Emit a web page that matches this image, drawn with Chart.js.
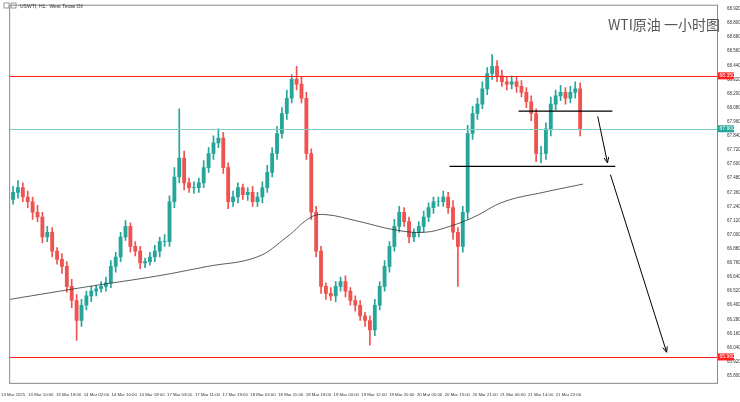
<!DOCTYPE html>
<html><head><meta charset="utf-8">
<script src="https://cdn.jsdelivr.net/npm/chart.js@4/dist/chart.umd.min.js"></script>
<style>html,body{margin:0;background:#fff}</style>
</head><body><canvas id="c" width="740" height="402"></canvas>
<script>
const closes=[67.36,67.40,67.32,67.28,67.19,67.15,66.98,67.02,66.86,66.79,66.73,66.56,66.44,66.27,66.40,66.48,66.52,66.54,66.56,66.59,66.73,66.81,66.98,67.07,66.90,66.86,66.76,66.77,66.81,66.86,66.94,66.94,67.28,67.49,67.65,67.44,67.40,67.40,67.44,67.57,67.69,67.78,67.82,67.57,67.28,67.32,67.40,67.34,67.36,67.28,67.32,67.40,67.53,67.69,67.86,68.03,68.16,68.32,68.28,68.16,67.69,67.19,66.86,66.56,66.50,66.48,66.56,66.60,66.52,66.44,66.40,66.31,66.27,66.19,66.40,66.56,66.73,66.90,67.07,67.19,67.11,66.98,67.02,67.07,67.15,67.23,67.28,67.28,67.32,67.23,67.02,66.90,67.19,67.86,68.03,68.11,68.24,68.37,68.43,68.35,68.30,68.28,68.30,68.26,68.21,68.13,68.03,67.69,67.69,67.90,68.11,68.18,68.21,68.16,68.21,68.24,67.90];
const firstOpen=67.30;
const wickUp=[0.05,0.06,0.04,0.05,0.04,0.06,0.04,0.05,0.04,0.03,0.05,0.04,0.06,0.05,0.05,0.04,0.04,0.03,0.04,0.05,0.05,0.04,0.04,0.05,0.03,0.04,0.04,0.03,0.04,0.05,0.04,0.06,0.05,0.08,0.42,0.06,0.04,0.05,0.04,0.06,0.05,0.06,0.08,0.05,0.04,0.05,0.04,0.03,0.04,0.05,0.04,0.05,0.06,0.05,0.06,0.05,0.07,0.04,0.11,0.06,0.05,0.04,0.05,0.04,0.03,0.05,0.04,0.04,0.05,0.03,0.04,0.04,0.03,0.04,0.05,0.04,0.05,0.04,0.06,0.05,0.04,0.04,0.03,0.04,0.05,0.04,0.04,0.04,0.05,0.04,0.06,0.04,0.05,0.07,0.06,0.05,0.06,0.05,0.10,0.05,0.05,0.04,0.05,0.04,0.05,0.04,0.05,0.04,0.06,0.05,0.06,0.05,0.06,0.04,0.05,0.06,0.05];
const wickDn=[0.04,0.05,0.04,0.05,0.06,0.04,0.05,0.04,0.05,0.04,0.06,0.05,0.06,0.17,0.05,0.04,0.05,0.04,0.03,0.04,0.04,0.05,0.04,0.03,0.05,0.04,0.05,0.04,0.03,0.04,0.05,0.04,0.04,0.05,0.05,0.06,0.04,0.05,0.04,0.04,0.04,0.05,0.04,0.05,0.06,0.04,0.05,0.04,0.05,0.04,0.04,0.05,0.04,0.04,0.05,0.04,0.05,0.04,0.05,0.04,0.05,0.06,0.05,0.06,0.05,0.04,0.05,0.04,0.05,0.04,0.05,0.04,0.05,0.13,0.05,0.04,0.04,0.05,0.04,0.05,0.04,0.05,0.04,0.04,0.05,0.04,0.05,0.04,0.04,0.05,0.06,0.34,0.05,0.06,0.05,0.05,0.04,0.05,0.05,0.05,0.04,0.05,0.04,0.05,0.04,0.05,0.06,0.07,0.08,0.05,0.06,0.05,0.04,0.05,0.04,0.05,0.06];
const maPts=[[-0.6,66.45],[15.6,66.56],[29.7,66.65],[39.8,66.73],[49.9,66.81],[56,66.98],[61,67.15],[64,67.17],[70,67.12],[78.2,67.04],[84.2,67.02],[89.3,67.07],[94.3,67.15],[100.4,67.28],[108.5,67.36],[116.6,67.43]];
const timeLabels=["13 Mar 2025","13 Mar 10:00","13 Mar 18:00","14 Mar 02:00","14 Mar 10:00","14 Mar 18:00","17 Mar 03:00","17 Mar 11:00","17 Mar 19:00","18 Mar 03:00","18 Mar 11:00","18 Mar 19:00","19 Mar 04:00","19 Mar 12:00","19 Mar 20:00","20 Mar 05:00","20 Mar 13:00","20 Mar 21:00","21 Mar 06:00","21 Mar 14:00","21 Mar 22:00"];
const labelStep=5.68;
const yTicks=[65.80,65.92,66.04,66.16,66.28,66.40,66.52,66.64,66.76,66.88,67.00,67.12,67.24,67.36,67.48,67.60,67.72,67.84,67.96,68.08,68.20,68.32,68.44,68.56,68.68,68.80,68.92];
const resist=68.35, support=65.96, current=67.90;
const neckA={x1:103.4,x2:122.6,y:68.05}, neckB={x1:89.3,x2:123.2,y:67.58};
const arrows=[[119.6,68.005,121.6,67.61],[122.2,67.51,133.7,66.00]];

const UP='#26a69a',DN='#ef5350';
const opens=closes.map((c,i)=>i?closes[i-1]:firstOpen);
const bodies=closes.map((c,i)=>({x:i,y:[opens[i],c]}));
const wicks=closes.map((c,i)=>({x:i,y:[Math.min(opens[i],c)-wickDn[i],Math.max(opens[i],c)+wickUp[i]]}));
const cols=closes.map((c,i)=>c>=opens[i]?UP:DN);
const tickPos=timeLabels.map((l,k)=>k*labelStep);

const deco={id:'deco',afterDatasetsDraw(ch){
 const {ctx,chartArea:a,scales:{x,y}}=ch;
 ctx.save();
 const hl=(v,c,w)=>{const py=Math.round(y.getPixelForValue(v))+0.5;ctx.strokeStyle=c;ctx.lineWidth=w;ctx.beginPath();ctx.moveTo(a.left,py);ctx.lineTo(a.right,py);ctx.stroke();};
 hl(current,'#7fcfc4',1);hl(resist,'#ff1f1f',1);hl(support,'#ff1f1f',1);
 ctx.strokeStyle='#000';ctx.lineWidth=1.3;
 [neckA,neckB].forEach(n=>{ctx.beginPath();ctx.moveTo(x.getPixelForValue(n.x1),y.getPixelForValue(n.y));ctx.lineTo(x.getPixelForValue(n.x2),y.getPixelForValue(n.y));ctx.stroke();});
 ctx.lineWidth=1;
 arrows.forEach(([a1,b1,a2,b2])=>{const X1=x.getPixelForValue(a1),Y1=y.getPixelForValue(b1),X2=x.getPixelForValue(a2),Y2=y.getPixelForValue(b2);
  ctx.beginPath();ctx.moveTo(X1,Y1);ctx.lineTo(X2,Y2);ctx.stroke();const an=Math.atan2(Y2-Y1,X2-X1);
  ctx.beginPath();ctx.moveTo(X2,Y2);ctx.lineTo(X2-6*Math.cos(an-0.4),Y2-6*Math.sin(an-0.4));ctx.moveTo(X2,Y2);ctx.lineTo(X2-6*Math.cos(an+0.4),Y2-6*Math.sin(an+0.4));ctx.stroke();});
 const box=(v,c)=>{const py=y.getPixelForValue(v);ctx.fillStyle=c;ctx.fillRect(a.right+1,py-3.5,16,7);ctx.fillStyle='#fff';ctx.font='5px Arial';ctx.textBaseline='middle';ctx.fillText(v.toFixed(3),a.right+2.5,py);};
 box(resist,'#ff1f1f');box(support,'#ff1f1f');box(current,'#26a69a');
 ctx.strokeStyle='#888';ctx.lineWidth=1;ctx.strokeRect(a.left+0.5,a.top+0.5,a.right-a.left,a.bottom-a.top);
 ctx.fillStyle='#555';ctx.font='14px "Noto Sans CJK SC"';ctx.textBaseline='alphabetic';ctx.fillText('WTI原油 一小时图',608,30);
 ctx.fillStyle='#333';ctx.font='5px Arial';ctx.fillText('USWTI, H1:  West Texas Oil',20,8);
 ctx.strokeStyle='#999';ctx.strokeRect(4,3,5,5);ctx.strokeRect(11,3,5,5);
 ctx.restore();}};

new Chart(document.getElementById('c'),{
 data:{datasets:[
  {type:'bar',data:wicks,backgroundColor:cols,barThickness:1,grouped:false,order:2},
  {type:'bar',data:bodies,backgroundColor:cols,barThickness:3.2,grouped:false,order:1},
  {type:'line',data:maPts.map(p=>({x:p[0],y:p[1]})),borderColor:'#333',borderWidth:0.8,pointRadius:0,tension:0.4,order:0}
 ]},
 options:{responsive:false,animation:false,devicePixelRatio:1,
  layout:{padding:{top:-2,right:0,left:0,bottom:4}},
  plugins:{legend:{display:false},tooltip:{enabled:false}},
  scales:{
   x:{type:'linear',min:-0.8,max:144,offset:false,grid:{display:false},border:{display:false},
    afterBuildTicks:ax=>{ax.ticks=tickPos.map(v=>({value:v}));},
    ticks:{autoSkip:false,maxRotation:0,font:{size:4.3},color:'#333',padding:1,callback:(v,i)=>timeLabels[i]}},
   y:{position:'right',min:65.74,max:68.955,grid:{display:false},border:{display:false},
    afterBuildTicks:ax=>{ax.ticks=yTicks.map(v=>({value:v}));},
    afterFit:ax=>{ax.width=23;},
    ticks:{font:{size:4.5},color:'#333',padding:2,callback:v=>v.toFixed(3)}}
  }},
 plugins:[deco]
});
</script>
</body></html>
